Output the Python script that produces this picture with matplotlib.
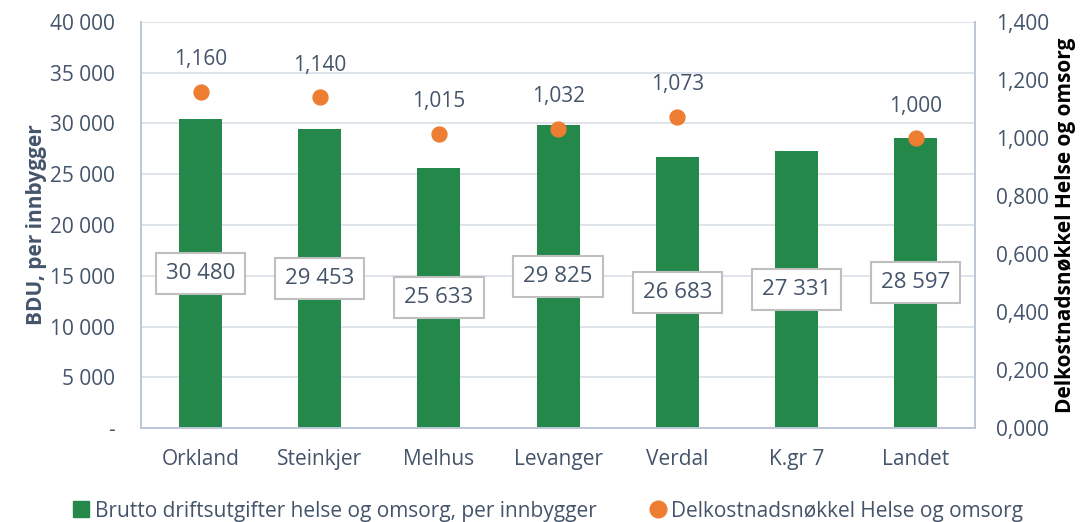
import matplotlib.pyplot as plt
from matplotlib.ticker import FuncFormatter
from matplotlib.lines import Line2D
import numpy as np

plt.rcParams['font.family'] = ['Open Sans', 'DejaVu Sans']

# data
kommuner = ['Orkland', 'Steinkjer', 'Melhus', 'Levanger', 'Verdal', 'K.gr 7', 'Landet']
bdu = [30480, 29453, 25633, 29825, 26683, 27331, 28597]
nokkel = [1.160, 1.140, 1.015, 1.032, 1.073, None, 1.000]

txt = '#44546A'
green = '#23884A'
orange = '#ED7D31'
grid = '#D9DEE6'
fs = 15

fig = plt.figure(figsize=(10.89, 5.22), dpi=100)
ax = fig.add_axes([0.1295, 0.18, 0.766, 0.778])
ax2 = ax.twinx()

x = np.arange(len(kommuner))
ax.bar(x, bdu, width=0.36, color=green, zorder=2)
ax.set_ylim(0, 40000)
ax.set_xlim(-0.5, len(kommuner) - 0.5)
ax.set_yticks(np.arange(0, 40001, 5000))
ax.yaxis.set_major_formatter(FuncFormatter(
    lambda v, p: '-' if v == 0 else f'{int(v):,}'.replace(',', ' ')))
ax.grid(axis='y', color=grid, linewidth=1.2, zorder=0)
ax.set_axisbelow(True)
ax.set_xticks(x)
ax.set_xticklabels(kommuner)

# labels inside bars
for xi, v in zip(x, bdu):
    ax.text(xi, v / 2, f'{v:,}'.replace(',', ' '), ha='center', va='center',
            fontsize=16, color=txt, zorder=4,
            bbox=dict(boxstyle='square,pad=0.45', fc='white', ec='#BFBFBF', lw=1.5))

# delkostnadsnokkel
xs = [xi for xi, n in zip(x, nokkel) if n is not None]
ns = [n for n in nokkel if n is not None]
ax2.scatter(xs, ns, s=115, color=orange, zorder=5)
for xi, n in zip(xs, ns):
    ax2.annotate(f'{n:.3f}'.replace('.', ','), (xi, n), xytext=(0, 23),
                 textcoords='offset points', ha='center', va='center',
                 fontsize=fs, color=txt)
ax2.set_ylim(0, 1.4)
ax2.set_yticks(np.arange(0, 1.401, 0.2))
ax2.yaxis.set_major_formatter(FuncFormatter(lambda v, p: f'{v:.3f}'.replace('.', ',')))

for a in (ax, ax2):
    a.spines['top'].set_visible(False)
    for s in ['left', 'right', 'bottom']:
        a.spines[s].set_color('#BCC6D6')
        a.spines[s].set_linewidth(1.2)
    a.tick_params(length=0, labelsize=fs, labelcolor=txt)
ax.tick_params(axis='y', pad=19)
ax.tick_params(axis='x', pad=15)
ax2.tick_params(axis='y', pad=15)

ax.set_ylabel('BDU, per innbygger', fontsize=fs, fontweight='bold', color=txt, labelpad=2)
ax2.set_ylabel('Delkostnadsnøkkel Helse og omsorg', fontsize=fs, fontweight='bold',
               color='black', labelpad=4)

handles = [
    Line2D([], [], marker='s', linestyle='none', color=green, markersize=12,
           label='Brutto driftsutgifter helse og omsorg, per innbygger'),
    Line2D([], [], marker='o', linestyle='none', color=orange, markersize=12,
           label='Delkostnadsnøkkel Helse og omsorg'),
]
fig.legend(handles=handles, loc='lower center', bbox_to_anchor=(0.5, -0.035), ncol=2,
           frameon=False, fontsize=fs, labelcolor=txt, handletextpad=-0.1,
           handlelength=1.5, columnspacing=2.2)

plt.savefig('out.png')
